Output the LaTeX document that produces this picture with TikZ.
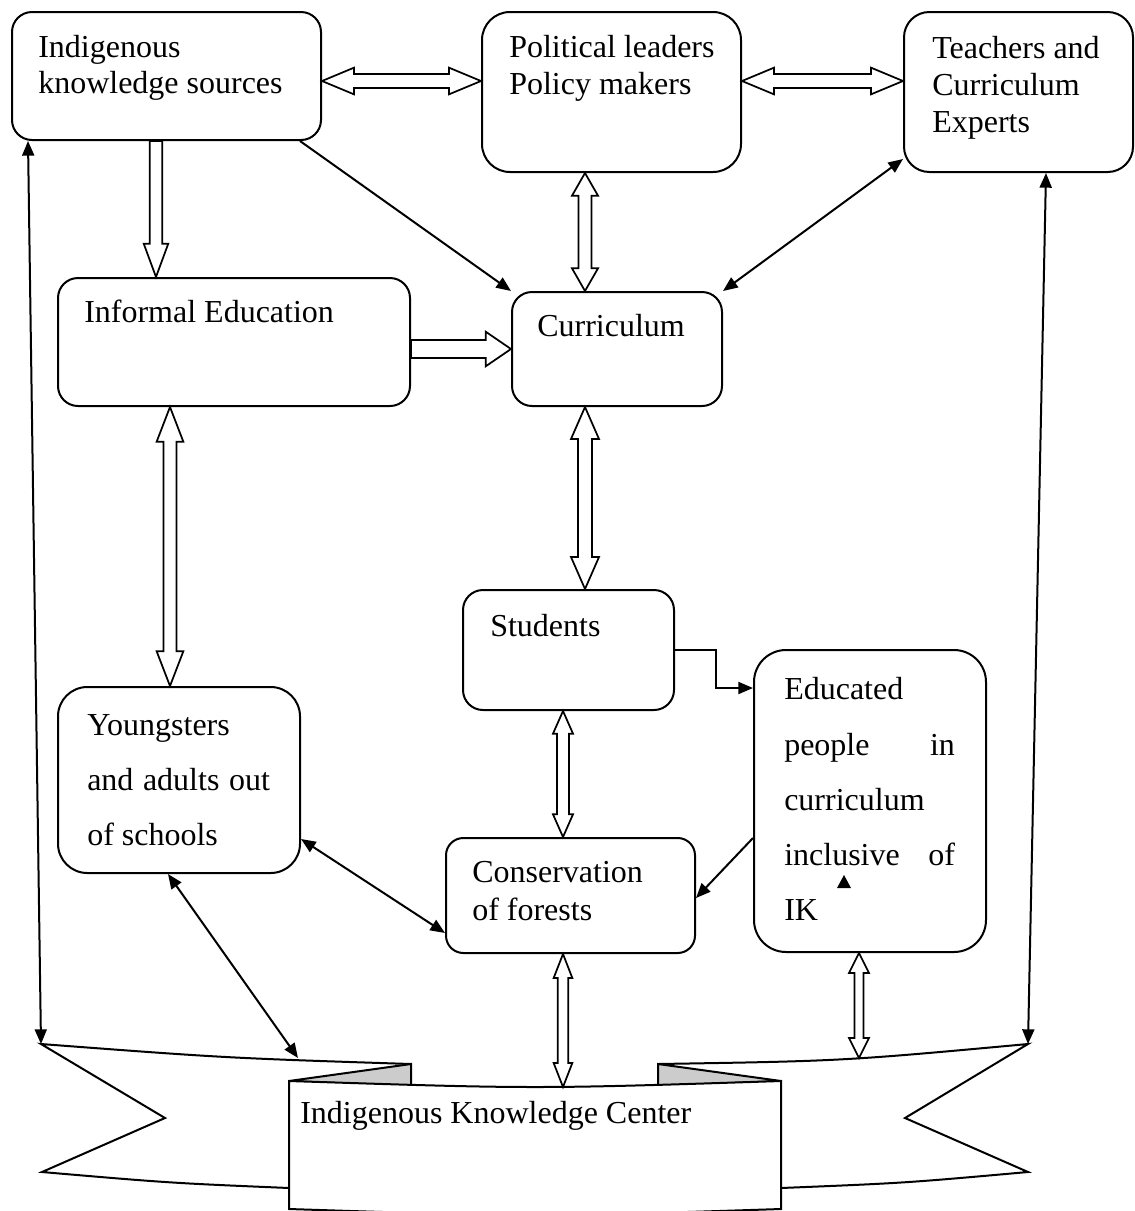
\documentclass[tikz,border=0pt]{standalone}
\usepackage{fontspec}
\setmainfont{Liberation Serif}
\usetikzlibrary{arrows.meta,calc,fit}
\newcommand\blkdbl[5]{%
  \coordinate (bA) at (#1);
  \coordinate (bB) at (#2);
  \coordinate (bC) at ($(bA)!#5!(bB)$);
  \coordinate (bD) at ($(bB)!#5!(bA)$);
  \draw[blk] (bA) -- ($(bC)!#4!90:(bB)$) -- ($(bC)!#3!90:(bB)$) -- ($(bD)!#3!-90:(bA)$) -- ($(bD)!#4!-90:(bA)$) -- (bB) -- ($(bD)!#4!90:(bA)$) -- ($(bD)!#3!90:(bA)$) -- ($(bC)!#3!-90:(bB)$) -- ($(bC)!#4!-90:(bB)$) -- cycle;}
\newcommand\blksgl[5]{%
  \coordinate (bA) at (#1);
  \coordinate (bB) at (#2);
  \coordinate (bD) at ($(bB)!#5!(bA)$);
  \draw[blk] ($(bA)!#3!90:(bB)$) -- ($(bD)!#3!-90:(bA)$) -- ($(bD)!#4!-90:(bA)$) -- (bB) -- ($(bD)!#4!90:(bA)$) -- ($(bD)!#3!90:(bA)$) -- ($(bA)!#3!-90:(bB)$) -- cycle;}
\begin{document}
\begin{tikzpicture}[x=0.75pt,y=-0.75pt,
  box/.style={draw, line width=1.5pt, inner sep=0pt, rounded corners=#1},
  box/.default=15pt,
  lbl/.style={anchor=base west, inner sep=0pt, font=\fontsize{24}{28}\selectfont},
  blk/.style={draw, fill=white, line width=1.3pt, line join=miter},
  ln/.style={line width=1.5pt},
  arr1/.style={-{Triangle[length=11pt,width=9pt]}},
  arr2/.style={{Triangle[length=11pt,width=9pt]}-{Triangle[length=11pt,width=9pt]}},
  bn/.style={line width=1.5pt, line join=miter}]
\useasboundingbox (0,0) rectangle (1135,1211);

% boxes
\node[box=15pt, fit={(12,12) (321,140)}] (ind) {};
\node[box=21pt, fit={(482,12) (741,172)}] (pol) {};
\node[box=19pt, fit={(904,12) (1133,172)}] (tea) {};
\node[box=15pt, fit={(58,278) (410,406)}] (inf) {};
\node[box=15pt, fit={(512,292) (722,406)}] (cur) {};
\node[box=15pt, fit={(463,590) (674,710)}] (stu) {};
\node[box=22pt, fit={(58,687) (300,873)}] (yng) {};
\node[box=24pt, fit={(754,650) (986,952)}] (edu) {};
\node[box=13pt, fit={(446,838) (695,953)}] (cons) {};

% texts
\node[lbl] (indT1) at (38,57) {Indigenous};
\node[lbl] (indT2) at (38,93) {knowledge sources};
\node[lbl] (polT1) at (509,57) {Political leaders};
\node[lbl] (polT2) at (509,94) {Policy makers};
\node[lbl] (teaT1) at (932,58) {Teachers and};
\node[lbl] (teaT2) at (932,95) {Curriculum};
\node[lbl] (teaT3) at (932,132) {Experts};
\node[lbl] (infT) at (84,322) {Informal Education};
\node[lbl] (curT) at (537,336) {Curriculum};
\node[lbl] (stuT) at (490,636) {Students};
\node[lbl] (yngT1) at (87,735) {Youngsters};
\node[lbl] (yngT2) at (87,790) {\makebox[137pt][s]{and adults out}};
\node[lbl] (yngT3) at (87,845) {of schools};
\node[lbl] (eduT1) at (784,699) {Educated};
\node[lbl] (eduT2) at (784,755) {\makebox[128pt][l]{people\hfill in}};
\node[lbl] (eduT3) at (784,810) {curriculum};
\node[lbl] (eduT4) at (784,865) {\makebox[128pt][l]{inclusive\hfill of}};
\node[lbl] (eduT5) at (784,920) {IK};
\node[lbl] (consT1) at (472,882) {Conservation};
\node[lbl] (consT2) at (472,920) {of forests};

% banner
\coordinate (bnL) at (41,1044);
\coordinate (bnR) at (1028,1044);
\coordinate (bnA) at (298,1058);
\coordinate (bnC) at (563,1087);
\coordinate (bnE) at (859,1058);
\draw[bn] (411,1064) .. controls (226,1058) .. (bnL) -- (165,1118) -- (42,1172) .. controls (170,1183) .. (289,1188);
\draw[bn] (658,1064) .. controls (843,1061) .. (bnR) -- (905,1118) -- (1028,1172) .. controls (905,1183) .. (781,1188);
\filldraw[bn, fill=black!20] (289,1081) -- (411,1064) -- (411,1086) -- cycle;
\filldraw[bn, fill=black!20] (658,1064) -- (658,1086) -- (781,1081) -- cycle;
\filldraw[bn, fill=white] (289,1081) .. controls (535,1089) .. (781,1081) -- (781,1209) .. controls (535,1217) .. (289,1209) -- cycle;
\node[lbl] (bnT) at (300,1123) {Indigenous Knowledge Center};

% block arrows
\blkdbl{ind.east |- 0,81}{pol.west |- 0,81}{5.25pt}{10pt}{24pt}
\blkdbl{pol.east |- 0,81}{tea.west |- 0,81}{5.25pt}{10pt}{24pt}
\blksgl{ind.south -| 156,0}{inf.north -| 156,0}{4.7pt}{9.2pt}{25pt}
\blksgl{inf.east |- 0,349}{cur.west |- 0,349}{6.75pt}{13pt}{19pt}
\blkdbl{pol.south -| 585,0}{cur.north -| 585,0}{4.9pt}{9.75pt}{17pt}
\blkdbl{inf.south -| 170,0}{yng.north -| 170,0}{4.9pt}{10pt}{26pt}
\blkdbl{cur.south -| 585,0}{stu.north -| 585,0}{5.25pt}{10.5pt}{24pt}
\blkdbl{stu.south -| 563,0}{cons.north -| 563,0}{4.5pt}{7.5pt}{17pt}
\blkdbl{cons.south -| 563,0}{bnC}{4pt}{7pt}{18pt}
\blkdbl{edu.south -| 859,0}{bnE}{3.4pt}{7.5pt}{15pt}

% line arrows
\draw[ln,arr1] (ind.south -| 300,0) -- (cur.north west);
\draw[ln,arr2] (tea.west |- 0,159) -- (cur.north east);
\draw[ln,arr2] (ind.south -| 28,0) -- (bnL);
\draw[ln,arr2] (tea.south -| 1046,0) -- (bnR);
\draw[ln,arr2] (yng.east |- 0,839) -- (cons.west |- 0,933);
\draw[ln,arr2] (yng.south -| 168,0) -- (bnA);
\draw[ln,arr1] (edu.west |- 0,838) -- (cons.east |- 0,898);
\draw[ln,arr1] (stu.east |- 0,650) -| (716,688) -- (edu.west |- 0,688);
\fill (837,888) -- (851,888) -- (844,875) -- cycle;
\end{tikzpicture}
\end{document}
